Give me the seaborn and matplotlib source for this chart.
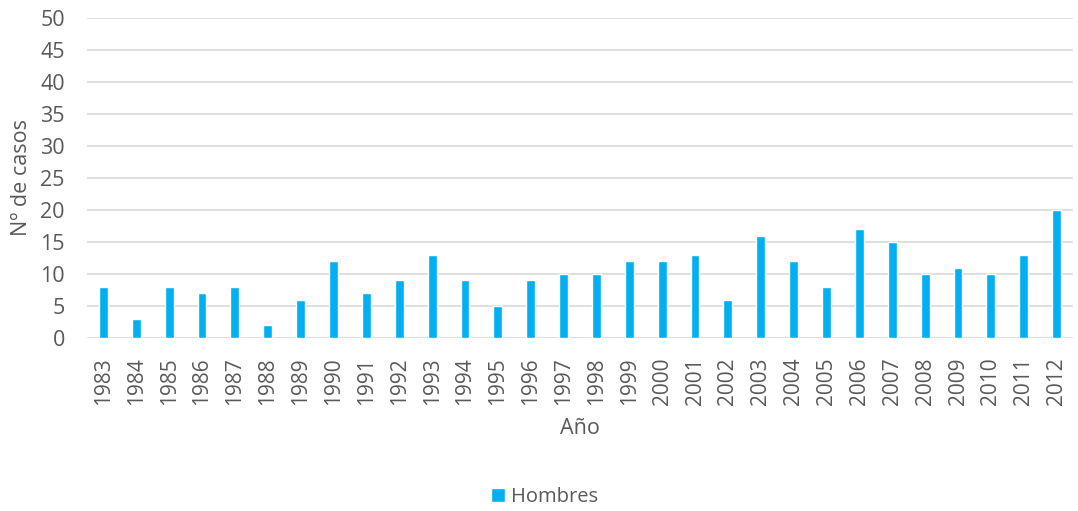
import matplotlib
matplotlib.use("Agg")
import matplotlib.pyplot as plt
import seaborn as sns
import pandas as pd

years = [str(y) for y in range(1983, 2013)]
hombres = [8, 3, 8, 7, 8, 2, 6, 12, 7, 9, 13, 9, 5, 9, 10, 10, 12, 12, 13, 6,
           16, 12, 8, 17, 15, 10, 11, 10, 13, 20]
series_name = "Hombres"

df = pd.DataFrame({"Año": years, "casos": hombres, "serie": series_name})

sns.set_theme(style="white")
plt.rcParams["font.family"] = ["Open Sans", "DejaVu Sans"]

grey = "#595959"
fig = plt.figure(figsize=(10.78, 5.11), dpi=100)
ax = fig.add_axes([0.0807, 0.3386, 0.9147, 0.6262])

sns.barplot(data=df, x="Año", y="casos", hue="serie", palette=["#00B0F0"],
            saturation=1, width=0.27, ax=ax, zorder=3)

ax.set_ylim(0, 50)
ax.set_yticks(range(0, 51, 5))
ax.yaxis.grid(True, color="#D9D9D9", linewidth=1.2, zorder=0)
for s in ax.spines.values():
    s.set_visible(False)
ax.tick_params(axis="x", rotation=90, labelsize=15, colors=grey, length=0, pad=14)
ax.tick_params(axis="y", labelsize=15.5, colors=grey, length=0, pad=16)
ax.set_xlabel("Año", fontsize=15.5, color=grey, labelpad=9)
ax.set_ylabel("Nº de casos", fontsize=15.5, color=grey, labelpad=6)

ax.get_legend().remove()
handles, labels = ax.get_legend_handles_labels()
fig.legend(handles, labels, loc="center", bbox_to_anchor=(0.505, 0.027),
           frameon=False, fontsize=14.5, handlelength=0.7, handleheight=0.7,
           handletextpad=0.3, labelcolor=grey)

fig.savefig("out.png", dpi=100)
